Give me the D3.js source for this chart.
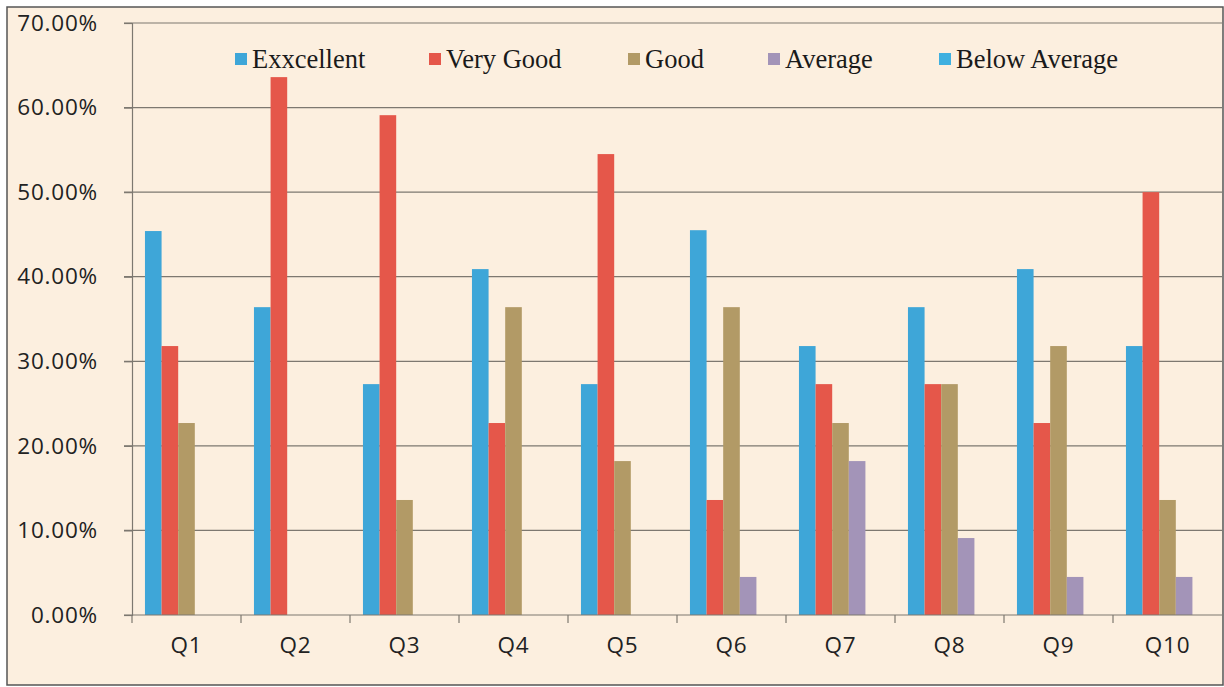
<!DOCTYPE html>
<html><head><meta charset="utf-8">
<script src="https://cdn.jsdelivr.net/npm/d3@7"></script>
<style>html,body{margin:0;padding:0;background:#fff;}svg{display:block;}</style>
</head><body>
<svg id="c" width="1224" height="687"></svg>
<script>
const categories = ["Q1","Q2","Q3","Q4","Q5","Q6","Q7","Q8","Q9","Q10"];
const seriesNames = ["Exxcellent","Very Good","Good","Average","Below Average"];
const excellent    = [45.4, 36.4, 27.3, 40.9, 27.3, 45.5, 31.8, 36.4, 40.9, 31.8];
const veryGood     = [31.8, 63.6, 59.1, 22.7, 54.5, 13.6, 27.3, 27.3, 22.7, 50.0];
const good         = [22.7, 0, 13.6, 36.4, 18.2, 36.4, 22.7, 27.3, 31.8, 13.6];
const average      = [0, 0, 0, 0, 0, 4.5, 18.2, 9.1, 4.5, 4.5];
const belowAverage = [0, 0, 0, 0, 0, 0, 0, 0, 0, 0];
const yTicks = [0,10,20,30,40,50,60,70];
const colors = ["#3ea6d8","#e5574a","#b29a66","#a394b8","#3fb0e0"];

const seriesValues = [excellent, veryGood, good, average, belowAverage];
const svg = d3.select("#c");
const L = 132, R = 1222, T = 23, B = 615;

svg.append("rect").attr("x",7).attr("y",7).attr("width",1216).attr("height",678)
  .attr("fill","#fcefdf").attr("stroke","#555").attr("stroke-width",1.5);

const x = d3.scaleBand().domain(categories).range([L, R]).paddingInner(0).paddingOuter(0);
const x1 = d3.scaleBand().domain(seriesNames).range([0, x.bandwidth()]).paddingInner(0).paddingOuter(0.78);
const y = d3.scaleLinear().domain([0,70]).range([B, T]);

// gridlines
svg.append("g").selectAll("line").data(yTicks.filter(d=>d>0)).join("line")
  .attr("x1", L-8).attr("x2", R).attr("y1", d=>y(d)).attr("y2", d=>y(d))
  .attr("stroke","#7d7870").attr("stroke-width",1.2);

// y axis
const yAxis = svg.append("g").attr("transform",`translate(${L},0)`)
  .call(d3.axisLeft(y).tickValues(yTicks).tickSize(8).tickPadding(26).tickFormat(d=>d3.format(".2f")(d)+"%"));
yAxis.select(".domain").attr("stroke","#7d7870").attr("stroke-width",1.2);
yAxis.selectAll(".tick line").attr("stroke","#7d7870").attr("stroke-width",1.2);
yAxis.selectAll("text").attr("font-family","'Open Sans', Lato, sans-serif").attr("font-size",22.5)
  .attr("letter-spacing","0.8px").attr("fill","#222");

// bars
const data = [];
categories.forEach((c,i)=>seriesNames.forEach((s,j)=>data.push({c, s, v: seriesValues[j][i], j})));
svg.append("g").selectAll("rect").data(data).join("rect")
  .attr("x", d=>x(d.c)+x1(d.s)).attr("width", x1.bandwidth())
  .attr("y", d=>y(d.v)).attr("height", d=>B - y(d.v))
  .attr("fill", d=>colors[d.j]);

// x axis
const xAxis = svg.append("g").attr("transform",`translate(0,${B})`)
  .call(d3.axisBottom(x).tickSize(0).tickPadding(22));
xAxis.select(".domain").remove();
svg.append("line").attr("x1",L-8).attr("x2",R).attr("y1",B).attr("y2",B).attr("stroke","#7d7870").attr("stroke-width",1.2);
svg.append("g").selectAll("line").data(categories).join("line")
  .attr("x1", d=>x(d)).attr("x2", d=>x(d)).attr("y1", B).attr("y2", B+8)
  .attr("stroke","#7d7870").attr("stroke-width",1.2);
xAxis.selectAll("text").attr("font-family","'Open Sans', Lato, sans-serif").attr("font-size",22.5)
  .attr("letter-spacing","0.8px").attr("fill","#222");

// legend
const legendX = [235, 429, 628, 768, 939];
const lg = svg.append("g").selectAll("g").data(seriesNames).join("g")
  .attr("transform",(d,i)=>`translate(${legendX[i]},59)`);
lg.append("rect").attr("x",0).attr("y",-6).attr("width",12).attr("height",12).attr("fill",(d,i)=>colors[i]);
lg.append("text").attr("x",17).attr("y",9).text(d=>d)
  .attr("font-family","'Liberation Serif', 'Times New Roman', serif").attr("font-size",26.5).attr("fill","#1a1a1a");
</script>
</body></html>
